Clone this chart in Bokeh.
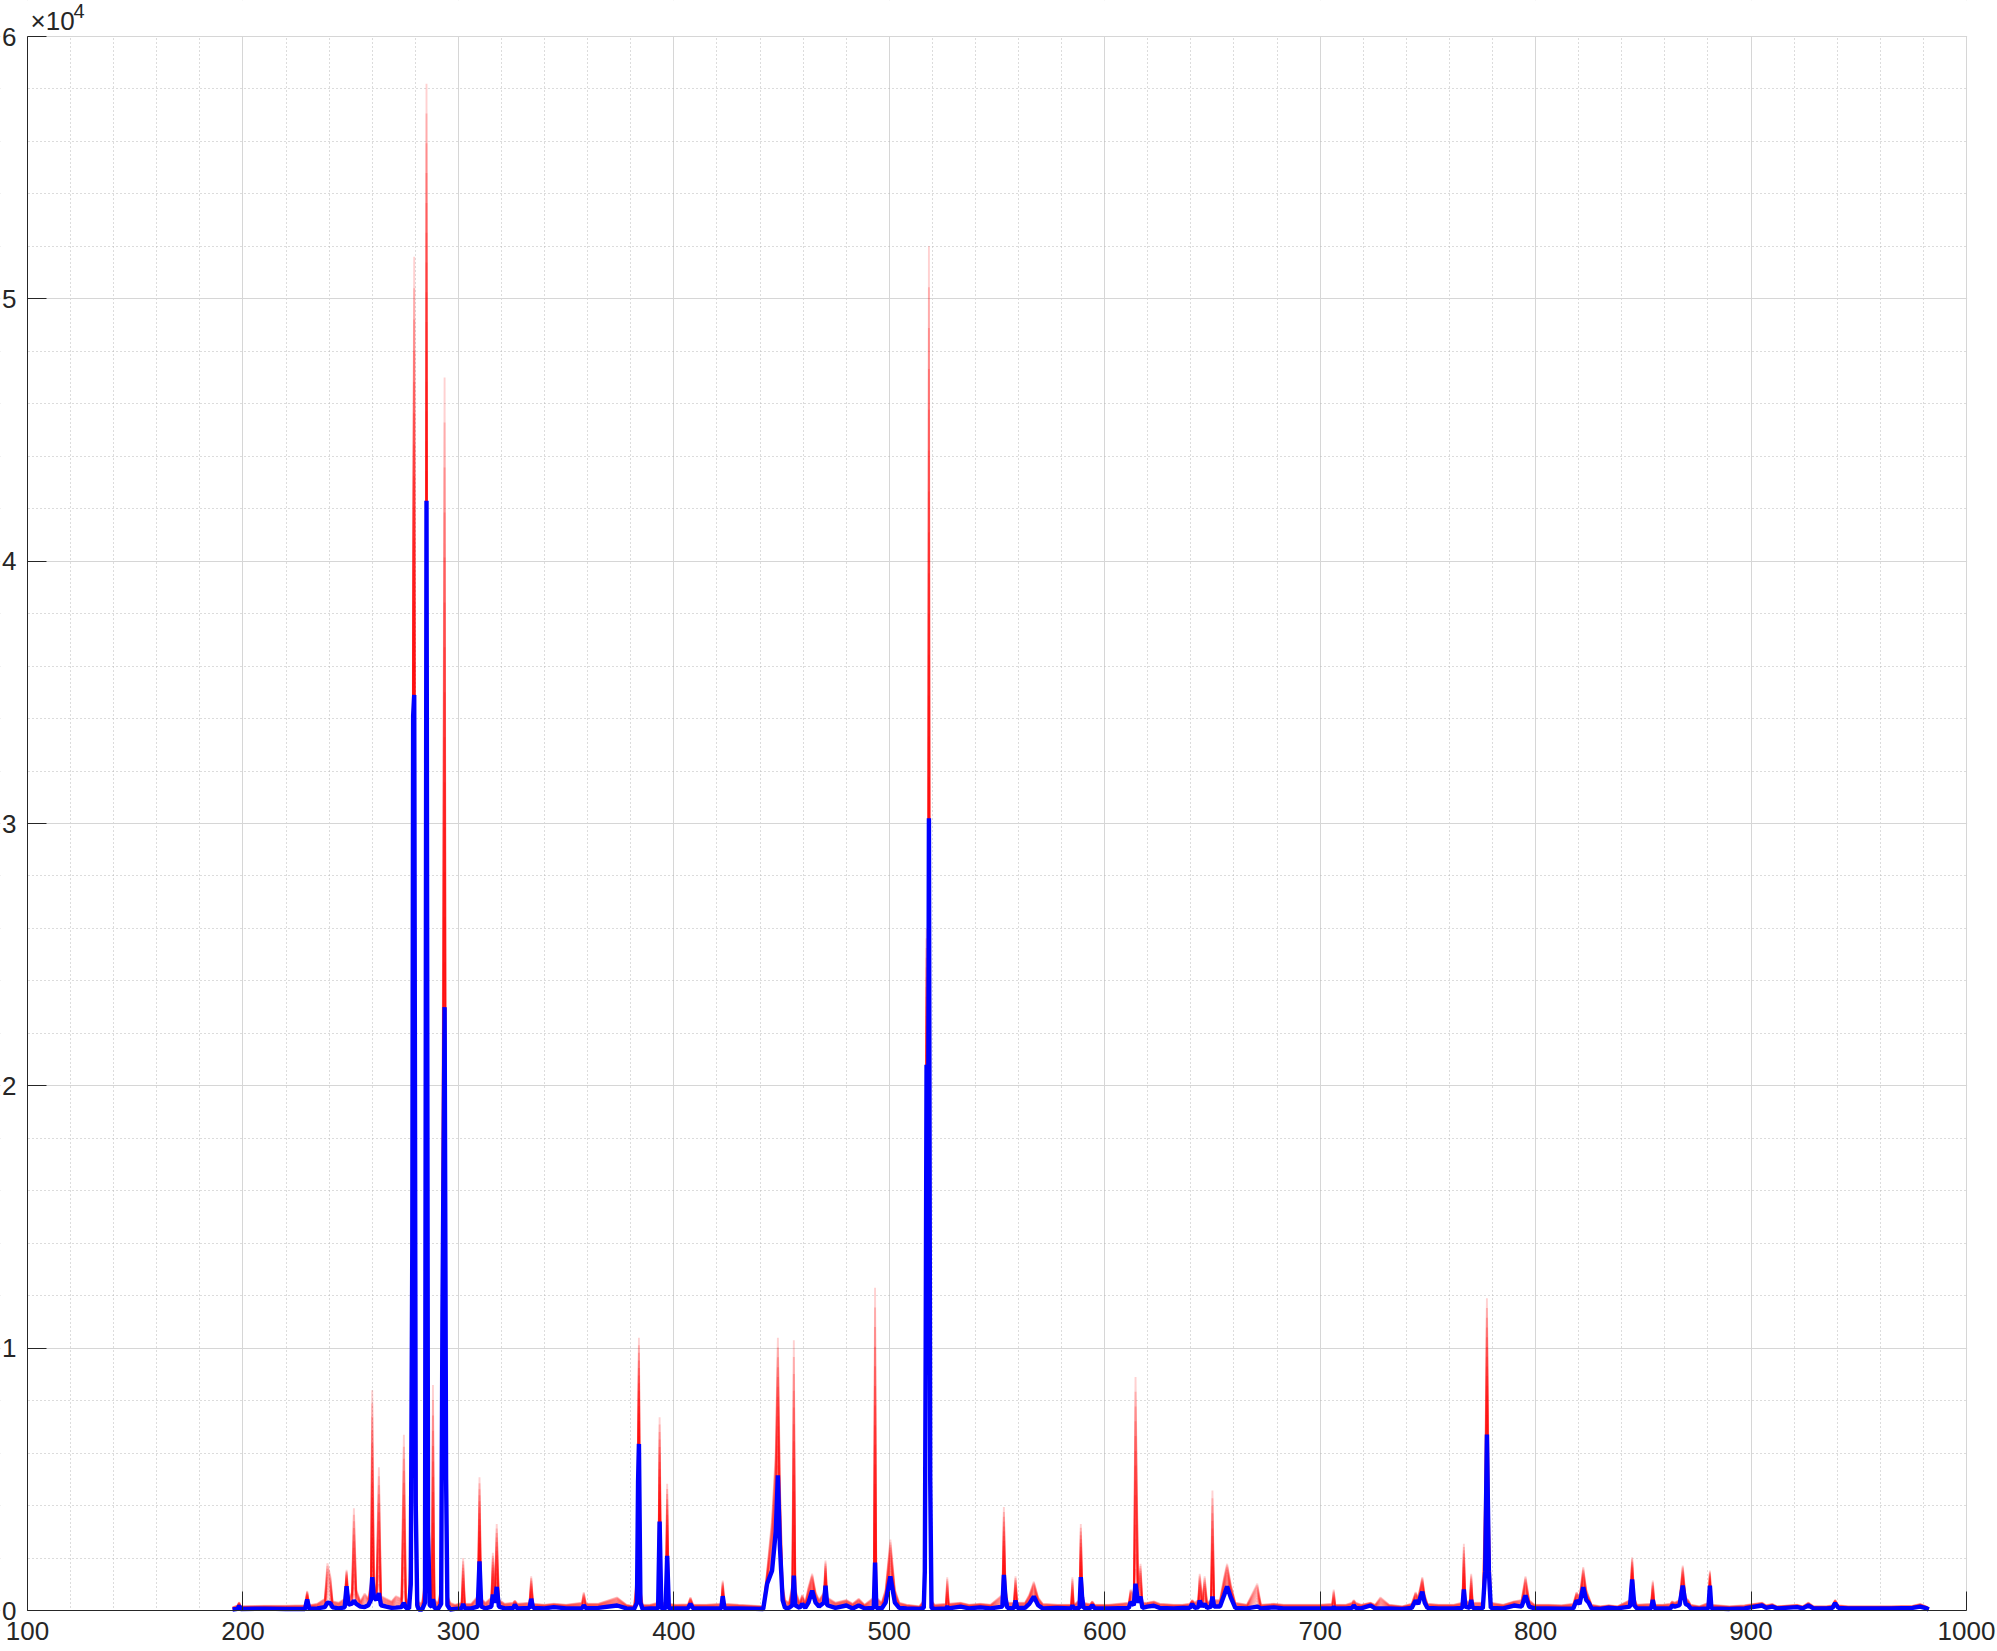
from bokeh.plotting import figure
from bokeh.models import Range1d, FixedTicker, Label, BoxAnnotation
from bokeh.embed import file_html
from bokeh.resources import INLINE

# ---- data ----
wavelength_nm = [
    195.2, 197.5, 198.2, 199.0, 210.0, 220.0, 228.8, 229.8, 230.8, 234.5,
    238.0, 239.2, 240.6, 241.6, 244.5, 247.2, 248.1, 249.0, 250.6, 251.5,
    252.6, 254.5, 256.5, 258.2, 259.4, 260.0, 260.8, 261.9, 263.1, 264.1,
    266.5, 269.0, 271.0, 273.6, 274.7, 275.7, 277.1, 277.9, 278.6, 279.0,
    279.5, 280.2, 280.9, 281.6, 283.2, 284.5, 285.2, 285.9, 286.7, 287.6,
    288.2, 288.9, 290.6, 292.0, 292.6, 293.6, 294.3, 294.9, 296.2, 298.5,
    301.5, 302.2, 303.0, 306.0, 309.0, 309.8, 310.6, 312.6, 315.3, 316.0,
    316.9, 317.8, 318.8, 321.5, 325.4, 326.2, 327.4, 333.0, 333.8, 334.7,
    340.0, 344.3, 350.0, 357.4, 358.2, 359.2, 365.0, 373.7, 378.0, 381.6,
    382.9, 383.4, 383.8, 384.5, 385.5, 389.0, 392.7, 393.4, 394.2, 396.2,
    396.9, 397.7, 401.0, 406.6, 407.7, 409.0, 415.0, 422.0, 422.7, 423.5,
    430.0, 441.5, 443.3, 445.6, 447.3, 448.3, 449.2, 450.5, 451.6, 453.5,
    455.0, 455.7, 456.4, 458.4, 459.6, 461.0, 462.5, 464.2, 465.8, 467.4,
    469.7, 470.4, 471.2, 475.0, 480.1, 483.0, 485.8, 488.5, 492.8, 493.4,
    494.0, 496.5, 498.3, 500.5, 502.6, 504.6, 508.0, 514.0, 516.0, 516.5,
    516.9, 517.3, 517.9, 518.4, 519.0, 519.6, 521.0, 526.3, 526.9, 527.6,
    533.1, 537.0, 542.3, 547.0, 552.5, 553.2, 553.9, 554.8, 557.8, 558.6,
    559.4, 563.0, 565.0, 567.1, 569.1, 571.2, 578.0, 584.4, 585.0, 585.6,
    588.3, 588.9, 589.5, 590.2, 593.2, 594.2, 595.4, 602.0, 611.2, 612.0,
    613.5, 614.3, 615.5, 616.6, 617.5, 619.8, 622.8, 625.5, 632.0, 636.0,
    639.5, 640.6, 641.8, 643.4, 644.1, 645.3, 646.4, 647.5, 649.3, 650.0,
    650.8, 653.5, 655.5, 656.8, 658.5, 660.6, 666.0, 670.8, 672.5, 678.5,
    683.0, 692.0, 700.0, 705.6, 706.3, 707.0, 712.0, 714.8, 715.6, 716.5,
    719.0, 723.4, 725.5, 728.0, 732.0, 738.0, 742.5, 744.3, 745.5, 747.4,
    748.5, 749.8, 755.0, 762.0, 766.0, 766.7, 767.4, 769.4, 770.1, 770.8,
    775.5, 776.6, 777.4, 778.3, 779.2, 785.0, 790.0, 793.5, 795.3, 797.0,
    799.5, 806.0, 812.0, 817.5, 819.0, 820.4, 822.1, 823.5, 824.7, 826.0,
    830.0, 834.0, 838.0, 843.8, 844.8, 845.8, 847.0, 853.6, 854.4, 855.2,
    859.0, 862.6, 863.3, 864.6, 866.8, 868.3, 869.6, 870.8, 872.0, 876.0,
    880.2, 880.9, 881.6, 890.0, 897.0, 905.1, 907.0, 909.8, 912.0, 921.4,
    924.0, 926.6, 929.0, 935.0, 937.8, 939.0, 940.5, 945.0, 955.0, 965.0,
    975.0, 978.5, 981.5, 982.5,
]

mean_counts = [
    40, 60, 180, 60, 70, 60, 60, 420, 70, 80,
    130, 300, 280, 120, 80, 120, 930, 220, 260, 380,
    250, 150, 130, 200, 400, 1270, 500, 400, 660, 200,
    150, 100, 110, 130, 290, 100, 70, 1000, 13800, 34100,
    34900, 4100, 200, 40, 40, 300, 42300, 3000, 200, 150,
    430, 100, 60, 250, 11300, 23000, 5000, 200, 40, 60,
    80, 250, 80, 80, 150, 1870, 150, 80, 150, 610,
    300, 900, 150, 80, 90, 220, 80, 100, 445, 100,
    80, 130, 80, 90, 190, 90, 100, 190, 80, 60,
    300, 4900, 6350, 300, 60, 80, 80, 3390, 80, 80,
    2080, 80, 80, 90, 250, 80, 80, 80, 546, 80,
    80, 60, 1020, 1520, 3000, 5150, 2500, 400, 100, 100,
    200, 1330, 200, 100, 250, 100, 300, 760, 300, 150,
    300, 950, 200, 100, 190, 80, 190, 80, 100, 1830,
    100, 80, 300, 1300, 300, 100, 80, 60, 100, 1500,
    10000, 20800, 12000, 30200, 5000, 100, 60, 80, 150, 80,
    150, 80, 120, 80, 150, 1360, 500, 100, 80, 380,
    100, 100, 250, 530, 200, 80, 100, 80, 190, 80,
    100, 1270, 500, 100, 90, 200, 80, 80, 100, 318,
    200, 1020, 300, 530, 100, 150, 180, 100, 80, 100,
    100, 254, 100, 120, 380, 150, 254, 100, 150, 530,
    150, 150, 600, 915, 500, 100, 80, 150, 80, 120,
    80, 80, 80, 80, 130, 80, 80, 100, 190, 100,
    80, 190, 80, 80, 80, 60, 100, 380, 250, 720,
    300, 100, 80, 80, 100, 800, 150, 100, 406, 100,
    80, 1500, 6710, 1500, 100, 80, 190, 150, 570, 150,
    80, 80, 70, 80, 380, 250, 890, 400, 290, 80,
    60, 110, 80, 150, 1180, 200, 80, 80, 406, 80,
    80, 80, 190, 150, 200, 950, 250, 200, 80, 60,
    80, 950, 80, 60, 80, 190, 100, 150, 80, 130,
    80, 190, 80, 80, 100, 280, 100, 80, 80, 80,
    100, 150, 80, 40,
]

max_counts = [
    120, 200, 320, 160, 180, 180, 200, 750, 200, 260,
    450, 1800, 1300, 350, 300, 450, 1550, 450, 700, 3900,
    800, 350, 650, 450, 1100, 8400, 1100, 750, 5460, 550,
    450, 350, 550, 450, 6700, 300, 500, 3000, 20000, 42000,
    51600, 9000, 600, 300, 300, 1200, 58200, 8000, 600, 450,
    8600, 400, 300, 900, 18000, 47000, 9000, 600, 300, 220,
    300, 2000, 260, 260, 550, 5080, 450, 300, 500, 2200,
    800, 3300, 420, 260, 300, 380, 260, 300, 1300, 260,
    220, 260, 220, 300, 700, 260, 260, 500, 220, 160,
    1500, 7000, 10400, 900, 220, 220, 300, 7370, 300, 300,
    4830, 260, 220, 240, 500, 220, 220, 260, 1140, 260,
    220, 160, 1500, 3500, 6000, 10400, 5000, 1000, 400, 300,
    1000, 10300, 800, 300, 600, 300, 900, 1400, 700, 400,
    700, 1900, 500, 300, 400, 260, 450, 220, 500, 12300,
    500, 300, 800, 2700, 800, 300, 220, 160, 400, 4000,
    14000, 26000, 18000, 52000, 10000, 400, 220, 260, 1270, 260,
    300, 220, 260, 220, 600, 3940, 1000, 300, 300, 1300,
    300, 300, 600, 1100, 500, 260, 220, 220, 1270, 220,
    400, 3300, 1200, 300, 240, 350, 220, 220, 300, 800,
    600, 8900, 1000, 1780, 300, 300, 350, 260, 220, 220,
    260, 400, 300, 400, 1400, 400, 1300, 300, 400, 4570,
    400, 400, 1300, 1780, 1000, 300, 220, 1020, 220, 260,
    220, 220, 220, 260, 800, 220, 220, 300, 400, 300,
    220, 300, 220, 500, 220, 160, 260, 700, 500, 1270,
    600, 260, 220, 220, 300, 2540, 400, 300, 1400, 300,
    300, 5000, 11900, 4000, 300, 220, 350, 400, 1300, 400,
    220, 220, 200, 260, 700, 500, 1650, 800, 510, 220,
    160, 200, 160, 400, 2030, 500, 220, 260, 1140, 220,
    220, 260, 350, 300, 400, 1715, 500, 400, 220, 160,
    300, 1520, 220, 160, 200, 300, 200, 250, 160, 220,
    160, 300, 160, 160, 200, 406, 200, 160, 160, 160,
    180, 250, 150, 100,
]

x_tick_values = [100, 200, 300, 400, 500, 600, 700, 800, 900, 1000]
y_tick_values = [0, 10000, 20000, 30000, 40000, 50000, 60000]
y_tick_labels = ["0", "1", "2", "3", "4", "5", "6"]
x_minor_values = list(range(100, 1001, 20))
y_minor_values = list(range(0, 60001, 2000))
exponent_text = "×10"
exponent_power = "4"

X_MIN, X_MAX = 100, 1000
Y_MIN, Y_MAX = 0, 60000

FONT = "Liberation Sans"
AXIS_COLOR = "#262626"

# layout (pixels): axes box 1939 x 1574 placed 27 px from the left and 36 px from
# the top of a 1997 x 1651 canvas. The frame covers the whole canvas and the axes
# are pinned to the box edges, so texts around the box are never clipped.
CANVAS_W, CANVAS_H = 1997, 1651
BOX_LEFT, BOX_TOP, BOX_W, BOX_H = 27, 36, 1939, 1574
px_x = (X_MAX - X_MIN) / BOX_W
px_y = (Y_MAX - Y_MIN) / BOX_H
x_lo = X_MIN - BOX_LEFT * px_x
x_hi = X_MAX + (CANVAS_W - BOX_LEFT - BOX_W) * px_x
y_lo = Y_MIN - (CANVAS_H - BOX_TOP - BOX_H) * px_y
y_hi = Y_MAX + BOX_TOP * px_y

p = figure(
    frame_width=CANVAS_W, frame_height=CANVAS_H,
    output_backend="svg", toolbar_location=None,
    x_range=Range1d(x_lo, x_hi), y_range=Range1d(y_lo, y_hi),
    min_border=0,
    background_fill_color="white", border_fill_color="white",
)
p.outline_line_color = None

# red "max" envelope drawn as stacked translucent layers between mean and max
n_layers = 14
for k in range(1, n_layers + 1):
    f = k / n_layers
    ys = [m + (r - m) * f for m, r in zip(mean_counts, max_counts)]
    p.line(wavelength_nm, ys, line_color="#ff0000", line_alpha=0.18, line_width=1.9)

# blue mean spectrum
p.line(wavelength_nm, mean_counts, line_color="#0000ff", line_width=4.4)

# axes styling (MATLAB-like, ticks inside)
ticker_x = FixedTicker(ticks=x_tick_values, minor_ticks=x_minor_values)
ticker_y = FixedTicker(ticks=y_tick_values, minor_ticks=y_minor_values)
p.xaxis.ticker = ticker_x
p.yaxis.ticker = ticker_y
p.yaxis.major_label_overrides = {v: t for v, t in zip(y_tick_values, y_tick_labels)}
p.xaxis.bounds = (X_MIN, X_MAX)
p.yaxis.bounds = (Y_MIN, Y_MAX)
p.xaxis.fixed_location = Y_MIN
p.yaxis.fixed_location = X_MIN

for ax in (p.xaxis[0], p.yaxis[0]):
    ax.axis_line_color = AXIS_COLOR
    ax.axis_line_width = 1
    ax.major_tick_line_color = AXIS_COLOR
    ax.major_tick_in = 19
    ax.major_tick_out = 0
    ax.minor_tick_in = 0
    ax.minor_tick_out = 0
    ax.major_label_text_font = FONT
    ax.major_label_text_font_size = "26px"
    ax.major_label_text_color = AXIS_COLOR
p.xaxis.major_label_standoff = 11
p.yaxis.major_label_standoff = 11

# grids
for g, tk in ((p.xgrid[0], ticker_x), (p.ygrid[0], ticker_y)):
    g.ticker = tk
    g.grid_line_color = "#d6d6d6"
    g.grid_line_width = 1
    g.minor_grid_line_color = "#b8b8b8"
    g.minor_grid_line_dash = "1 3"
    g.minor_grid_line_width = 1

# blank the strips around the axes box (grid lines stop at the box)
pad_x, pad_y = 0.6 * px_x, 0.6 * px_y
for kw in (dict(bottom=Y_MAX + pad_y), dict(top=Y_MIN - pad_y),
           dict(right=X_MIN - pad_x), dict(left=X_MAX + pad_x)):
    p.add_layout(BoxAnnotation(fill_color="white", fill_alpha=1.0, line_color=None,
                               level="underlay", **kw))

# exponent label
p.add_layout(Label(x=X_MIN, y=Y_MAX, x_offset=3, y_offset=16, text=exponent_text,
                   text_font=FONT, text_font_size="26px", text_color=AXIS_COLOR,
                   text_baseline="alphabetic"))
p.add_layout(Label(x=X_MIN, y=Y_MAX, x_offset=46, y_offset=26, text=exponent_power,
                   text_font=FONT, text_font_size="20px", text_color=AXIS_COLOR,
                   text_baseline="alphabetic"))

open("out.html", "w").write(file_html(p, INLINE))
